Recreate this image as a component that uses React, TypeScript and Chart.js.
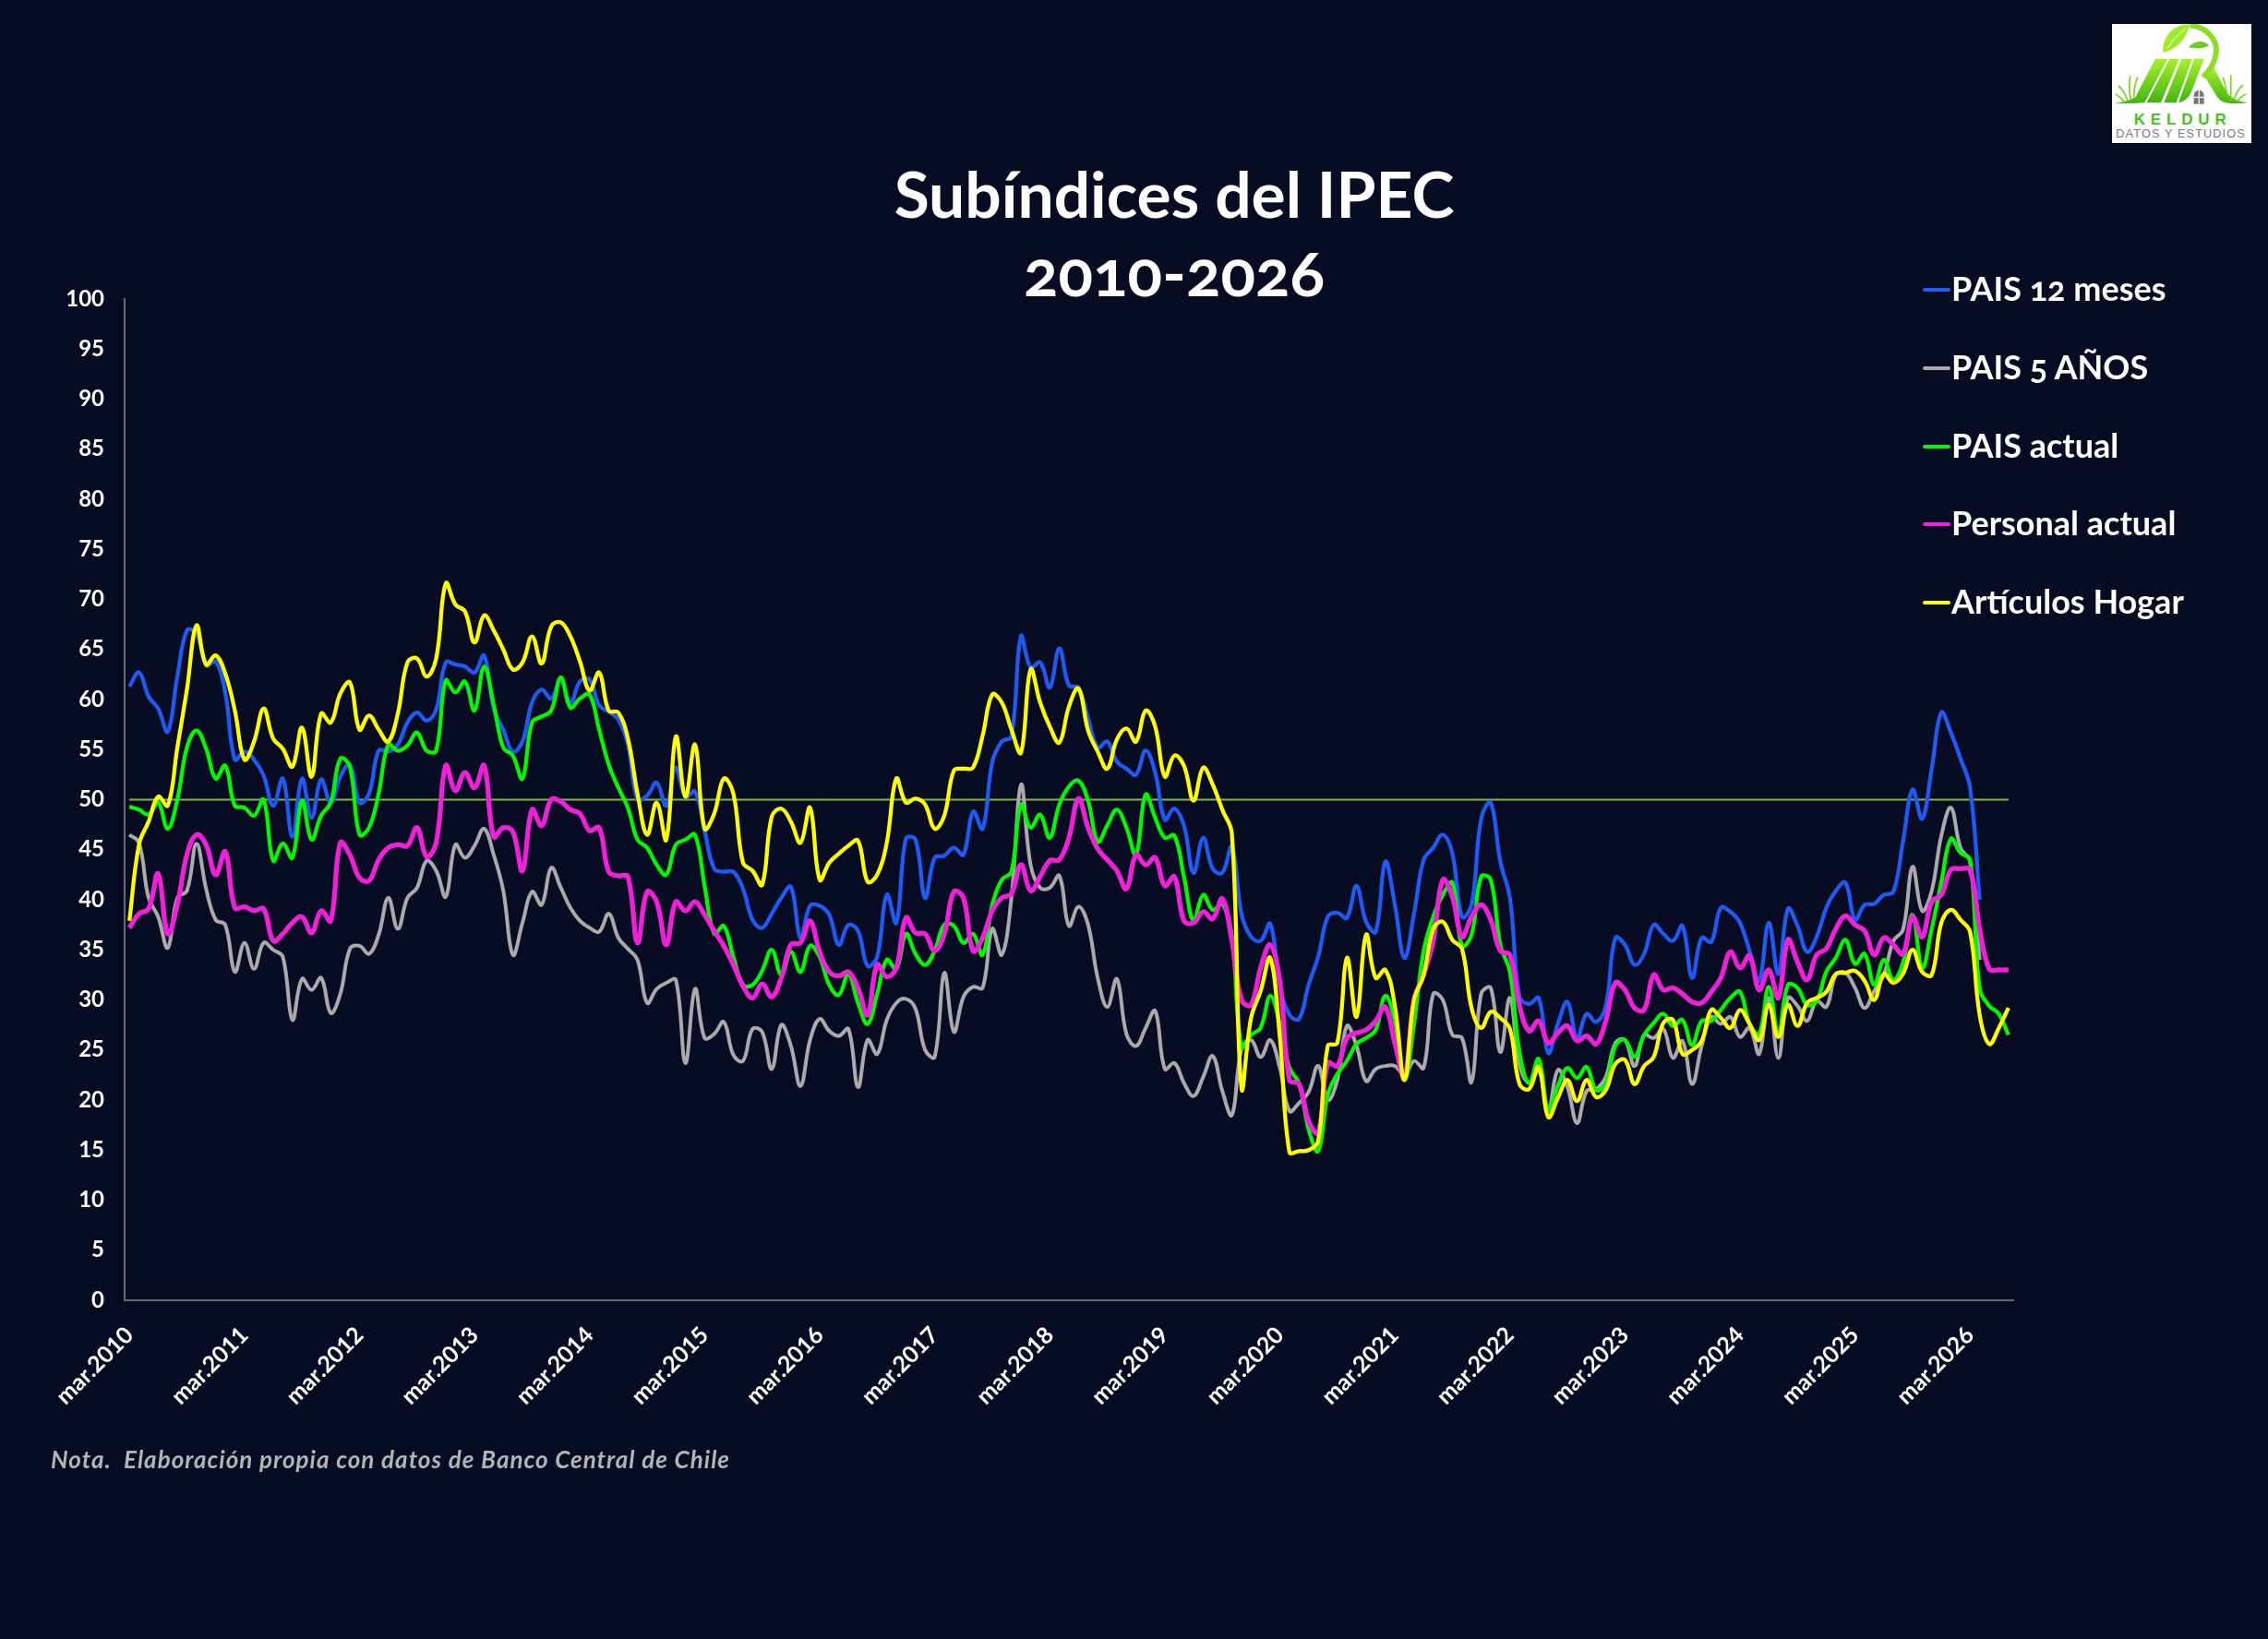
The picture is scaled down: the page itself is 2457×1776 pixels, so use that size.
import { useEffect, useRef } from 'react';
import { Chart, registerables } from 'chart.js';

Chart.register(...registerables);

const BG = '#070c22';
const FONT = 'Lato';

const MESES = ['ene', 'feb', 'mar', 'abr', 'may', 'jun', 'jul', 'ago', 'sep', 'oct', 'nov', 'dic'];
const N_MESES = 197;
const labels: string[] = [];
for (let i = 0; i < N_MESES; i++) {
	const m = 2 + i;
	labels.push(MESES[m % 12] + '.' + (2010 + Math.floor(m / 12)));
}

const pais12 = [
	61.3, 62.7, 60.3, 59.1, 56.8, 62.3, 66.9, 66.6, 63.4, 63.8, 60.7, 54,
	54.8, 54, 52.4, 49.4, 52.1, 46.3, 52.1, 48.2, 52, 49.7, 52.3, 53.5,
	49.7, 50.6, 54.9, 54.8, 55.5, 57.7, 58.7, 57.9, 59, 63.7, 63.5, 63.3,
	62.7, 64.4, 59.1, 57, 54.8, 55.8, 59.7, 61, 60.1, 62, 59.7, 61.8,
	62, 59.4, 58.8, 58, 55.5, 50, 50.4, 51.7, 49.4, 53.2, 50.3, 50.8,
	46.9, 43.1, 42.8, 42.8, 41.1, 38, 37.2, 38.6, 40.2, 41.3, 36.2, 39.4,
	39.4, 38.5, 35.5, 37.5, 36.9, 33.4, 34.3, 40.5, 37.7, 46.1, 46, 40.2,
	44.2, 44.4, 45.2, 44.5, 48.8, 47.1, 53.7, 55.8, 56.3, 66.3, 63.2, 63.7,
	61.2, 65.1, 61.4, 61.2, 58.1, 55.2, 55.8, 53.8, 53.1, 52.5, 54.9, 52.7,
	48, 49.1, 47.4, 42.7, 46.2, 43.1, 42.7, 45.3, 38.6, 36.3, 35.9, 37.6,
	31.5, 28.5, 28.1, 31.5, 34.3, 38.3, 38.7, 38.2, 41.4, 37.8, 36.8, 43.8,
	39.5, 34.2, 38.6, 44, 45.2, 46.5, 44.6, 38.3, 39.5, 48.1, 49.7, 43.8,
	40.2, 30.3, 29.6, 30.2, 24.7, 27.6, 29.8, 26.2, 28.6, 27.8, 29.4, 36.2,
	35.5, 33.5, 34.6, 37.5, 36.6, 35.9, 37.4, 32.2, 36.2, 35.8, 39.2, 38.8,
	37.7, 34.9, 31.9, 37.7, 32.6, 39.1, 37.4, 34.8, 36.3, 39.2, 40.9, 41.7,
	38, 39.5, 39.6, 40.5, 40.8, 45.8, 51, 48.1, 53.1, 58.7, 56.7, 54.1,
	51.2, 40
];

const pais5 = [
	46.5, 45.7, 40.2, 38.3, 35.2, 40.2, 40.9, 45.6, 41.1, 38, 37.5, 32.8,
	35.7, 33.1, 35.7, 35, 34.3, 28, 32.1, 31, 32.2, 28.7, 30.6, 35.1,
	35.4, 34.6, 36.5, 40.2, 37.1, 40.2, 41.2, 43.9, 42.9, 40.3, 45.5, 44.2,
	45.4, 47.1, 44.5, 40.9, 34.5, 37.7, 40.8, 39.5, 43.2, 41.2, 39.2, 37.9,
	37.2, 36.8, 38.6, 36.2, 35.1, 34, 29.7, 31.1, 31.7, 32, 23.7, 31.1,
	26.2, 26.6, 27.8, 24.5, 23.9, 27.1, 26.8, 23.1, 27.5, 25.4, 21.4, 26,
	28.1, 26.9, 26.4, 27.1, 21.3, 26, 24.6, 28, 29.7, 30.1, 29.1, 25,
	24.3, 32.7, 26.8, 30.3, 31.3, 31.2, 37.1, 34.5, 40.2, 51.5, 43.5, 41.2,
	41.2, 42.4, 37.4, 39.3, 37.5, 32.2, 29.3, 32.1, 26.6, 25.4, 27.2, 28.9,
	23.1, 23.7, 21.7, 20.4, 22.3, 24.4, 20.9, 18.5, 25.1, 26, 24.3, 26,
	23.2, 18.9, 19.7, 20.8, 23.4, 20, 22, 27.4, 25.4, 21.9, 23.1, 23.4,
	23.4, 22.5, 23.9, 23.2, 30.6, 30, 26.5, 26.2, 21.8, 30.6, 31.2, 24.8,
	30.2, 23.6, 21.7, 23, 19, 23, 21.3, 17.7, 20.9, 21.1, 22.3, 25.7,
	26, 23.4, 26.5, 26.2, 27.1, 24.2, 25.9, 21.6, 25.4, 28.3, 27.6, 28.3,
	26.3, 27.2, 24.6, 30.2, 24.2, 30.2, 29.4, 27.9, 29.9, 29.3, 32.5, 32.7,
	31.2, 29.2, 30.9, 32.5, 35.9, 37, 43.3, 38.9, 40.9, 46.4, 49.2, 45.2,
	43.8, 34
];

const paisActual = [
	49.3, 49, 48.5, 49.7, 47.1, 50, 55.2, 56.9, 55.1, 52.1, 53.4, 49.4,
	49.2, 48.4, 50, 43.9, 45.6, 44.2, 49.9, 46, 48.4, 49.7, 54.1, 53.3,
	46.5, 47.2, 50.6, 55.5, 54.9, 55.4, 56.7, 54.9, 54.9, 61.9, 60.7, 61.8,
	58.9, 63.3, 59.5, 55.2, 54.4, 52.1, 57.7, 58.3, 58.9, 62.2, 59.2, 60.1,
	60.5, 57, 53.5, 51.2, 49.2, 46, 45.2, 43.5, 42.5, 45.5, 46, 46.5,
	41.4, 36.6, 37.4, 34.3, 31.5, 31.5, 32.9, 35, 32.5, 34.8, 32.8, 35.4,
	34.3, 31.5, 30.5, 32.6, 29.7, 27.6, 30.6, 34, 33.1, 36.6, 34.6, 33.5,
	34.9, 37.5, 37.4, 35.7, 36.6, 34.5, 39.5, 42, 42.8, 49.5, 47.2, 48.5,
	46.2, 49.5, 51.3, 51.9, 49.9, 45.8, 47.4, 49, 47.2, 44.5, 50.5, 48.2,
	46.2, 46.4, 42.3, 37.9, 40.5, 39, 39.6, 36.3, 25.3, 26.5, 27.2, 30.4,
	27.6, 23.2, 21.7, 17.1, 14.9, 20.5, 22.6, 23.9, 25.6, 26.2, 27, 30.4,
	27.9, 22, 27.6, 34.9, 38.3, 40.5, 41.7, 35.4, 36.5, 42.3, 42, 35.5,
	32.8, 24.8, 21.7, 24.1, 19, 21.4, 23.2, 22.2, 23.3, 21, 21.6, 25.4,
	26, 24.3, 26.5, 27.7, 28.6, 27.4, 28, 25.5, 27.9, 27.9, 29, 30.2,
	30.8, 27.6, 26.6, 31.3, 26.6, 31.5, 31.2, 29.5, 29.9, 32.8, 34.2, 36,
	33.6, 34.6, 31.5, 34, 32, 33.7, 38.5, 33.2, 37.1, 41.7, 46.1, 44.7,
	44, 31.2, 29.4, 28.6, 26.5
];

const personalActual = [
	37.2, 38.6, 39.1, 42.6, 36.6, 39.5, 44.5, 46.5, 45.5, 42.5, 44.8, 39.2,
	39.3, 38.9, 39.1, 35.9, 36.6, 37.7, 38.3, 36.7, 38.9, 37.9, 45.7, 44.5,
	42.2, 41.9, 44, 45.2, 45.5, 45.4, 47.2, 44.3, 45.7, 53.4, 50.9, 52.7,
	51.2, 53.4, 46.3, 47.2, 46.8, 42.9, 49, 47.4, 50, 49.8, 49, 48.6,
	46.9, 47.2, 42.8, 42.4, 42.3, 35.7, 40.8, 39.8, 35.5, 39.8, 38.9, 39.8,
	38.5, 36.9, 35.4, 33.5, 31.4, 30.2, 31.6, 30.3, 32.2, 35.5, 35.7, 37.9,
	34.8, 32.8, 32.4, 32.8, 31.2, 28.5, 33.5, 32.3, 33.2, 38.2, 36.7, 36.6,
	34.9, 36.6, 40.8, 40.2, 34.9, 36.2, 38.9, 40.2, 40.6, 43.5, 40.9, 42.3,
	43.9, 44, 46.2, 50.1, 47.2, 45.1, 44, 42.9, 41.1, 44.5, 43.5, 44.2,
	41.4, 42.3, 37.9, 37.7, 38.8, 38.1, 40.1, 35.9, 30, 29.5, 33.2, 35.5,
	31.9, 22, 21.6, 17.9, 16.7, 23.7, 23.4, 26.2, 26.7, 27, 27.9, 29.3,
	25.7, 22.3, 30, 32.5, 35.9, 42, 40.3, 36.3, 38.3, 39.5, 38, 34.9,
	34.5, 29.4, 26.9, 27.9, 25.7, 26.7, 27.4, 25.9, 26.4, 25.6, 27.9, 31.7,
	31, 29.2, 29, 32.5, 31, 31.2, 30.6, 29.8, 29.7, 30.8, 32.2, 34.8,
	33.2, 34.4, 31, 33, 30.2, 36, 33.8, 32, 34.5, 35.1, 37.1, 38.4,
	37.5, 36.9, 34.5, 36.2, 35.5, 34.6, 38.3, 36.3, 39.8, 40.5, 43, 43.1,
	43, 37.1, 33.1, 33, 33
];

const articulosHogar = [
	37.9, 45.5, 47.8, 50.3, 49.4, 55.2, 61, 67.4, 63.5, 64.4, 62.6, 58.9,
	54, 55.8, 59.1, 56.1, 55.1, 53.3, 57.2, 52.3, 58.6, 57.7, 60.6, 61.7,
	57, 58.4, 57, 55.8, 58.6, 63.7, 64.1, 62.3, 64.1, 71.6, 69.5, 68.8,
	65.7, 68.4, 66.9, 65, 63, 63.7, 66.3, 63.6, 67.3, 67.7, 66.3, 63.8,
	60.9, 62.7, 58.9, 58.7, 56.1, 50.6, 46.5, 49.7, 46, 56.3, 50.3, 55.5,
	47.1, 48.6, 52.1, 50.6, 43.7, 42.9, 41.5, 48.3, 49.1, 47.8, 45.7, 49.2,
	42, 43.7, 44.6, 45.4, 45.9, 41.8, 42.5, 45.7, 52.1, 49.7, 50.1, 49.5,
	47.1, 48.4, 52.9, 53.1, 53.2, 56.4, 60.5, 59.7, 57, 54.7, 63, 59.7,
	57.3, 55.7, 59.3, 61.1, 56.9, 54.8, 53.1, 56, 57.1, 55.8, 58.9, 57.3,
	52.3, 54.4, 53.4, 49.9, 53.2, 51.5, 49, 46.6, 21.2, 28.2, 30.9, 34.2,
	26.3, 14.8, 14.9, 15, 15.9, 25.4, 25.7, 34.2, 28.3, 36.5, 32.2, 33,
	29.4, 22, 30, 32.5, 37.1, 37.8, 36, 35.1, 29.2, 27.2, 28.8, 28.2,
	27.1, 21.6, 21.1, 23.3, 18.3, 20.2, 22, 19.9, 22, 20.3, 21, 23.6,
	24, 21.6, 23.4, 24.3, 27.7, 28, 24.6, 25, 25.9, 29, 28.2, 27.2,
	29, 27.6, 26, 29.5, 26.3, 29.5, 27.4, 29.7, 30.2, 30.8, 32.6, 32.7,
	32.9, 31.9, 30, 32.6, 31.7, 32.6, 35, 32.8, 32.5, 37.7, 39, 38,
	36.8, 28.5, 25.6, 27.2, 29.2
];

const neutral = labels.map(() => 50);

// top to bottom in the legend
const series = [
	{ label: 'PAIS 12 meses', data: pais12, color: '#1f5af5', width: 4.3, order: 5 },
	{ label: 'PAIS 5 AÑOS', data: pais5, color: '#aba9ab', width: 4, order: 4 },
	{ label: 'PAIS actual', data: paisActual, color: '#00f800', width: 4.3, order: 3 },
	{ label: 'Personal actual', data: personalActual, color: '#f020d8', width: 5.3, order: 2 },
	{ label: 'Artículos Hogar', data: articulosHogar, color: '#ffff00', width: 4.3, order: 1 }
];

const legendY = [314, 399, 484, 568, 653];

function Logo() {
	return (
		<svg
			width="151"
			height="129"
			viewBox="9 12 453 387"
			style={{ position: 'absolute', left: 2288, top: 26 }}
		>
			<defs>
				<linearGradient id="verde" x1="0" y1="0" x2="0" y2="1">
					<stop offset="0" stopColor="#a8f02e" />
					<stop offset="1" stopColor="#3fb512" />
				</linearGradient>
			</defs>
			<rect x="9" y="12" width="453" height="387" fill="#fff" />
			<path d="M150 125 L190 125 L115 268 Q60 272 15 270 Q60 265 85 250 Z" fill="url(#verde)" />
			<path d="M196 125 L228 125 L168 268 L122 268 Z" fill="url(#verde)" />
			<path d="M235 125 L270 125 L218 268 L178 268 Z" fill="url(#verde)" />
			<path d="M276 125 L308 125 L268 230 Q255 262 225 268 Z" fill="url(#verde)" />
			<path d="M338 150 L382 235 Q400 262 450 268 Q400 274 378 268 Q355 262 342 235 L312 185 Z" fill="url(#verde)" />
			<path d="M262 16 C320 22 350 65 348 100 C346 135 325 165 305 185" stroke="#8fdc24" strokeWidth="18" fill="none" />
			<path d="M175 105 C170 55 210 10 262 14 C250 60 220 95 175 105 Z" fill="#a2ea2c" />
			<path d="M190 90 C205 65 225 45 250 25" stroke="#fff" strokeWidth="3" fill="none" />
			<path d="M257 88 C275 65 305 62 325 82 C300 95 280 92 257 88 Z" fill="#6ecb1e" />
			<path
				d="M60 262 Q50 230 30 213 M70 258 Q62 220 68 180 M80 250 Q80 215 92 185 M50 265 Q30 245 20 240 M395 262 Q395 215 395 178 M405 262 Q415 225 435 210 M385 250 Q380 220 370 185 M415 265 Q430 245 445 240"
				stroke="#78d61c"
				strokeWidth="5"
				fill="none"
			/>
			<path d="M275 272 L275 245 Q275 228 292 228 Q308 228 308 245 L308 272 Z" fill="#777" />
			<path d="M292 228 V272 M275 250 H308" stroke="#fff" strokeWidth="4" />
			<text x="80" y="340" fontFamily="Liberation Sans" fontWeight="700" fontSize="51" textLength="300" fill="#46c21e">
				KELDUR
			</text>
			<text x="22" y="382" fontFamily="Liberation Sans" fontSize="38" textLength="418" fill="#7a7a7a">
				DATOS Y ESTUDIOS
			</text>
		</svg>
	);
}

export default function App() {
	const canvasRef = useRef<HTMLCanvasElement>(null);

	useEffect(() => {
		document.body.style.margin = '0';
		document.body.style.background = BG;
		const datasets: any[] = series.map((s) => ({
			label: s.label,
			data: s.data,
			borderColor: s.color,
			borderWidth: s.width,
			order: s.order,
			pointRadius: 0,
			tension: 0.4,
			fill: false
		}));
		datasets.push({
			label: '50',
			data: neutral,
			borderColor: '#7cb942',
			borderWidth: 2,
			order: 6,
			pointRadius: 0,
			tension: 0,
			fill: false
		});
		const chart = new Chart(canvasRef.current as HTMLCanvasElement, {
			type: 'line',
			data: { labels, datasets },
			options: {
				animation: false,
				responsive: false,
				devicePixelRatio: 1,
				layout: { padding: { top: 324, right: 276, left: 0, bottom: 0 } },
				plugins: {
					legend: { display: false },
					title: { display: false },
					tooltip: { enabled: false }
				},
				scales: {
					x: {
						type: 'category',
						offset: true,
						afterFit: (scale: any) => {
							scale.height = 367;
						},
						grid: { display: false },
						border: { color: '#6b6b6b', width: 2 },
						ticks: {
							autoSkip: false,
							minRotation: 45,
							maxRotation: 45,
							padding: 15,
							color: '#ffffff',
							font: { family: FONT, size: 25, weight: 'bold' },
							callback: (_v: any, i: number) => (i % 12 === 0 ? labels[i] : '')
						}
					},
					y: {
						min: 0,
						max: 100,
						afterFit: (scale: any) => {
							scale.width = 135;
						},
						grid: { display: false, drawTicks: false },
						border: { color: '#6b6b6b', width: 2 },
						ticks: {
							stepSize: 5,
							padding: 22,
							color: '#ffffff',
							font: { family: FONT, size: 24, weight: 'bold' }
						}
					}
				}
			}
		});
		return () => {
			chart.destroy();
		};
	}, []);

	return (
		<div
			style={{
				position: 'relative',
				width: 2457,
				height: 1776,
				overflow: 'hidden',
				background: BG,
				fontFamily: FONT,
				color: '#fff'
			}}
		>
			<canvas ref={canvasRef} width={2457} height={1776} style={{ display: 'block' }} />
			<div
				style={{
					position: 'absolute',
					left: 772,
					width: 1000,
					top: 167,
					textAlign: 'center',
					fontSize: 69.5,
					fontWeight: 700,
					lineHeight: '85px',
					fontFeatureSettings: '"onum"'
				}}
			>
				Subíndices del IPEC
				<br />
				2010-2026
			</div>
			{series.map((s, i) => (
				<div key={s.label}>
					<div
						style={{
							position: 'absolute',
							left: 2083,
							top: legendY[i] - 2,
							width: 30,
							height: 4,
							background: s.color,
							borderRadius: 2
						}}
					/>
					<div
						style={{
							position: 'absolute',
							left: 2114,
							top: legendY[i] - 26,
							fontSize: 36,
							fontWeight: 700,
							lineHeight: '48px',
							whiteSpace: 'pre',
							fontFeatureSettings: '"onum"'
						}}
					>
						{s.label}
					</div>
				</div>
			))}
			<div
				style={{
					position: 'absolute',
					left: 55,
					top: 1565,
					fontSize: 26,
					fontWeight: 700,
					fontStyle: 'italic',
					lineHeight: '32px',
					letterSpacing: '1px',
					color: '#b4b4b4',
					whiteSpace: 'pre'
				}}
			>
				Nota.  Elaboración propia con datos de Banco Central de Chile
			</div>
			<Logo />
		</div>
	);
}
